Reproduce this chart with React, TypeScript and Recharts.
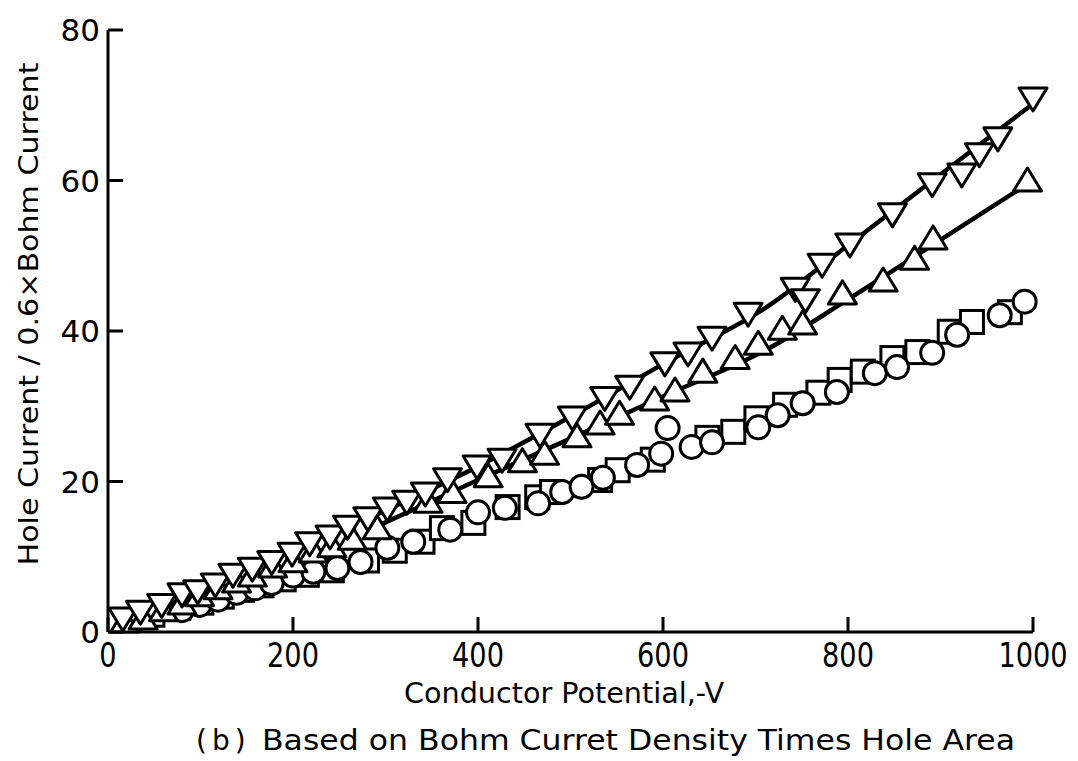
import React from "react";
import { ComposedChart, Scatter, Line, XAxis, YAxis } from "recharts";

// conductor potential (V) and normalised hole current for each marker set
const downX = [16, 35, 58, 80, 97, 116, 135, 156, 177, 199, 218, 240, 259, 281, 302, 323, 343, 367, 399, 426, 467, 502, 537, 564, 602, 627, 653, 692, 743, 754, 772, 802, 848, 891, 923, 942, 962, 1000];
const downY = [2.0, 2.9, 3.8, 5.2, 5.6, 6.5, 7.8, 8.6, 9.5, 10.6, 12.0, 12.9, 14.2, 15.3, 16.6, 17.5, 18.6, 20.5, 22.2, 23.1, 26.4, 28.7, 31.3, 32.8, 35.9, 37.2, 39.3, 42.5, 45.8, 44.3, 49.0, 51.7, 55.7, 59.7, 61.0, 63.7, 65.8, 71.1];

const upX = [18, 38, 60, 80, 99, 119, 139, 156, 178, 200, 222, 242, 264, 291, 346, 372, 411, 448, 472, 507, 532, 553, 591, 613, 643, 678, 703, 729, 751, 794, 838, 872, 892, 994];
const upY = [1.2, 1.6, 2.7, 3.6, 4.7, 5.6, 6.5, 7.3, 8.5, 9.2, 10.5, 11.2, 12.2, 13.6, 17.1, 18.4, 20.5, 22.5, 23.5, 25.8, 27.5, 28.8, 30.7, 31.9, 34.4, 36.2, 38.1, 40.1, 40.8, 44.8, 46.5, 49.4, 52.1, 59.8];

const circleX = [80, 99, 119, 139, 159, 177, 200, 222, 248, 273, 302, 330, 370, 400, 429, 465, 491, 512, 535, 572, 598, 605, 631, 653, 703, 724, 751, 788, 829, 853, 891, 918, 964, 991];
const circleY = [2.9, 3.6, 4.3, 5.2, 5.8, 6.5, 7.5, 8.0, 8.5, 9.3, 11.2, 12.0, 13.6, 15.9, 16.5, 17.1, 18.6, 19.3, 20.5, 22.2, 23.7, 27.1, 24.6, 25.2, 27.2, 28.8, 30.4, 31.9, 34.4, 35.2, 37.1, 39.5, 42.1, 43.9];

const squareX = [24, 48, 76, 101, 123, 145, 166, 190, 215, 242, 280, 310, 340, 361, 395, 432, 464, 480, 532, 551, 589, 648, 676, 701, 732, 768, 791, 816, 848, 875, 910, 934, 975];
const squareY = [1.6, 2.3, 3.2, 3.9, 4.7, 5.6, 6.2, 7.0, 7.6, 8.2, 9.5, 10.8, 12.0, 13.8, 14.5, 16.6, 17.9, 18.6, 20.2, 21.5, 22.9, 25.8, 26.6, 28.4, 30.2, 31.8, 33.5, 34.6, 36.4, 37.2, 39.9, 41.2, 42.5];

// fitted curves through the two triangle sets
const fitX = [290, 400, 500, 600, 716, 800, 900, 1000];
const fitDownY = [15.6, 22.0, 28.6, 35.6, 43.5, 51.4, 60.8, 70.2];
const fitUpY = [14.0, 20.2, 25.7, 31.3, 37.8, 44.2, 52.1, 60.0];

const xTicks = [0, 200, 400, 600, 800, 1000];
const yTicks = [0, 20, 40, 60, 80];

const pts = (xs: number[], ys: number[]) => xs.map((x, i) => ({ x, y: ys[i] }));

const FONT = "'DejaVu Sans', 'Liberation Sans', sans-serif";
const SW = 3;

const DownTri = ({ cx, cy }: any) => (
  <path d={`M${cx - 14},${cy - 9} L${cx + 14},${cy - 9} L${cx},${cy + 14} Z`} fill="#fff" stroke="#000" strokeWidth={SW} strokeLinejoin="round" />
);
const UpTri = ({ cx, cy }: any) => (
  <path d={`M${cx},${cy - 14} L${cx + 14},${cy + 9} L${cx - 14},${cy + 9} Z`} fill="#fff" stroke="#000" strokeWidth={SW} strokeLinejoin="round" />
);
const Circ = ({ cx, cy }: any) => <circle cx={cx} cy={cy} r={11.5} fill="#fff" stroke="#000" strokeWidth={SW} />;
const Sq = ({ cx, cy }: any) => <rect x={cx - 11.5} y={cy - 11.5} width={23} height={23} fill="#fff" stroke="#000" strokeWidth={SW} />;

const XTick = ({ x, y, payload }: any) => (
  <g>
    <line x1={x} y1={y} x2={x} y2={y - 15} stroke="#000" strokeWidth={SW} />
    <text transform={`translate(${x},${y + 35}) scale(0.8,1)`} textAnchor="middle" fontSize={34} fontFamily={FONT} fill="#000">
      {payload.value}
    </text>
  </g>
);

const YTick = ({ x, y, payload }: any) => (
  <g>
    <line x1={x} y1={y} x2={x + 15} y2={y} stroke="#000" strokeWidth={SW} />
    <text x={x - 8} y={y} dy="0.36em" textAnchor="end" fontSize={31} fontFamily={FONT} fill="#000">
      {payload.value}
    </text>
  </g>
);

export default function App() {
  return (
    <div style={{ position: "absolute", left: 0, top: 0, width: 1078, height: 761, background: "#fff" }}>
      <ComposedChart width={1078} height={761} margin={{ top: 30, right: 45, bottom: 119, left: 98 }}>
        <XAxis
          type="number"
          dataKey="x"
          domain={[0, 1000]}
          ticks={xTicks}
          height={10}
          tickSize={0}
          tickMargin={0}
          tickLine={false}
          axisLine={{ stroke: "#000", strokeWidth: SW }}
          tick={<XTick />}
        />
        <YAxis
          type="number"
          dataKey="y"
          domain={[0, 80]}
          ticks={yTicks}
          width={10}
          tickSize={0}
          tickMargin={0}
          tickLine={false}
          axisLine={{ stroke: "#000", strokeWidth: SW }}
          tick={<YTick />}
        />
        <Line data={pts(fitX, fitDownY)} dataKey="y" type="monotone" stroke="#000" strokeWidth={4.5} dot={false} isAnimationActive={false} />
        <Line data={pts(fitX, fitUpY)} dataKey="y" type="monotone" stroke="#000" strokeWidth={4.5} dot={false} isAnimationActive={false} />
        <Scatter data={pts(squareX, squareY)} dataKey="y" shape={<Sq />} isAnimationActive={false} />
        <Scatter data={pts(circleX, circleY)} dataKey="y" shape={<Circ />} isAnimationActive={false} />
        <Scatter data={pts(upX, upY)} dataKey="y" shape={<UpTri />} isAnimationActive={false} />
        <Scatter data={pts(downX, downY)} dataKey="y" shape={<DownTri />} isAnimationActive={false} />
        <text transform="translate(38,314) rotate(-90)" textAnchor="middle" fontSize={26} fontFamily={FONT} fill="#000" textLength={503} lengthAdjust="spacingAndGlyphs">
          Hole Current / 0.6×Bohm Current
        </text>
        <text x={404} y={703} fontSize={28} fontFamily={FONT} fill="#000" textLength={320} lengthAdjust="spacingAndGlyphs">
          Conductor Potential,-V
        </text>
        <text x={196} y={750} fontSize={28} fontFamily={FONT} fill="#000" letterSpacing={5}>
          (b)
        </text>
        <text x={262} y={750} fontSize={28} fontFamily={FONT} fill="#000" textLength={753} lengthAdjust="spacingAndGlyphs">
          Based on Bohm Curret Density Times Hole Area
        </text>
      </ComposedChart>
    </div>
  );
}
